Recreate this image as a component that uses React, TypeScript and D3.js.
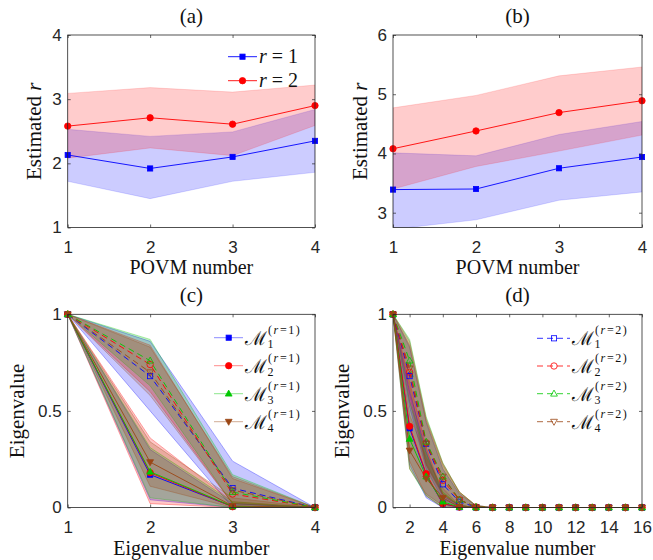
import React, { useEffect, useRef } from "react";
import * as d3 from "d3";

// ---- panel (a): estimated rank vs POVM number ----
const povmNumber = [1, 2, 3, 4];
const aR1Mean = [2.13, 1.92, 2.1, 2.35];
const aR1Lo = [1.72, 1.45, 1.72, 1.86];
const aR1Hi = [2.53, 2.42, 2.49, 2.84];
const aR2Mean = [2.58, 2.71, 2.61, 2.9];
const aR2Lo = [2.08, 2.24, 2.12, 2.59];
const aR2Hi = [3.09, 3.18, 3.11, 3.22];

// ---- panel (b) ----
const bR1Mean = [3.39, 3.4, 3.75, 3.94];
const bR1Lo = [2.72, 2.88, 3.21, 3.35];
const bR1Hi = [4.01, 3.96, 4.32, 4.54];
const bR2Mean = [4.08, 4.38, 4.69, 4.89];
const bR2Lo = [3.4, 3.78, 4.04, 4.31];
const bR2Hi = [4.77, 4.98, 5.31, 5.46];

// ---- panel (c): 4 eigenvalues ----
const cIndex = [1, 2, 3, 4];
const cSolid = [
  [1, 0.17, 0.005, 0],
  [1, 0.18, 0.004, 0],
  [1, 0.185, 0.006, 0],
  [1, 0.235, 0.008, 0],
];
const cSolidLo = [
  [1, 0.04, 0, 0],
  [1, 0.02, 0, 0],
  [1, 0.05, 0, 0],
  [1, 0.11, 0, 0],
];
const cSolidHi = [
  [1, 0.3, 0.02, 0],
  [1, 0.36, 0.03, 0],
  [1, 0.31, 0.03, 0],
  [1, 0.34, 0.05, 0],
];
const cDashed = [
  [1, 0.68, 0.1, 0],
  [1, 0.74, 0.07, 0],
  [1, 0.76, 0.08, 0],
  [1, 0.7, 0.09, 0],
];
const cDashedLo = [
  [1, 0.5, 0, 0],
  [1, 0.6, 0.02, 0],
  [1, 0.63, 0.02, 0],
  [1, 0.58, 0.02, 0],
];
const cDashedHi = [
  [1, 0.86, 0.24, 0],
  [1, 0.84, 0.15, 0],
  [1, 0.87, 0.17, 0],
  [1, 0.83, 0.16, 0],
];

// ---- panel (d): 16 eigenvalues ----
const dIndex = [1, 2, 3, 4, 5, 6, 7, 8, 9, 10, 11, 12, 13, 14, 15, 16];
const dSolid = [
  [1, 0.41, 0.17, 0.02, 0.001, 0, 0, 0, 0, 0, 0, 0, 0, 0, 0, 0],
  [1, 0.42, 0.175, 0.02, 0.002, 0, 0, 0, 0, 0, 0, 0, 0, 0, 0, 0],
  [1, 0.355, 0.16, 0.03, 0.002, 0, 0, 0, 0, 0, 0, 0, 0, 0, 0, 0],
  [1, 0.295, 0.15, 0.05, 0.003, 0, 0, 0, 0, 0, 0, 0, 0, 0, 0, 0],
];
const dSolidLo = [
  [1, 0.22, 0.05, 0, 0, 0, 0, 0, 0, 0, 0, 0, 0, 0, 0, 0],
  [1, 0.24, 0.06, 0, 0, 0, 0, 0, 0, 0, 0, 0, 0, 0, 0, 0],
  [1, 0.2, 0.06, 0, 0, 0, 0, 0, 0, 0, 0, 0, 0, 0, 0, 0],
  [1, 0.2, 0.07, 0.01, 0, 0, 0, 0, 0, 0, 0, 0, 0, 0, 0, 0],
];
const dSolidHi = [
  [1, 0.6, 0.29, 0.06, 0.01, 0, 0, 0, 0, 0, 0, 0, 0, 0, 0, 0],
  [1, 0.65, 0.31, 0.07, 0.01, 0, 0, 0, 0, 0, 0, 0, 0, 0, 0, 0],
  [1, 0.55, 0.28, 0.08, 0.01, 0, 0, 0, 0, 0, 0, 0, 0, 0, 0, 0],
  [1, 0.48, 0.26, 0.1, 0.01, 0, 0, 0, 0, 0, 0, 0, 0, 0, 0, 0],
];
const dDashed = [
  [1, 0.68, 0.33, 0.12, 0.03, 0.002, 0, 0, 0, 0, 0, 0, 0, 0, 0, 0],
  [1, 0.7, 0.335, 0.14, 0.04, 0.003, 0, 0, 0, 0, 0, 0, 0, 0, 0, 0],
  [1, 0.76, 0.34, 0.16, 0.04, 0.003, 0, 0, 0, 0, 0, 0, 0, 0, 0, 0],
  [1, 0.72, 0.33, 0.16, 0.04, 0.003, 0, 0, 0, 0, 0, 0, 0, 0, 0, 0],
];
const dDashedLo = [
  [1, 0.52, 0.2, 0.04, 0.005, 0, 0, 0, 0, 0, 0, 0, 0, 0, 0, 0],
  [1, 0.55, 0.22, 0.06, 0.01, 0, 0, 0, 0, 0, 0, 0, 0, 0, 0, 0],
  [1, 0.62, 0.23, 0.07, 0.01, 0, 0, 0, 0, 0, 0, 0, 0, 0, 0, 0],
  [1, 0.58, 0.22, 0.07, 0.01, 0, 0, 0, 0, 0, 0, 0, 0, 0, 0, 0],
];
const dDashedHi = [
  [1, 0.83, 0.44, 0.2, 0.07, 0.01, 0, 0, 0, 0, 0, 0, 0, 0, 0, 0],
  [1, 0.84, 0.45, 0.22, 0.08, 0.01, 0, 0, 0, 0, 0, 0, 0, 0, 0, 0],
  [1, 0.87, 0.47, 0.23, 0.08, 0.01, 0, 0, 0, 0, 0, 0, 0, 0, 0, 0],
  [1, 0.86, 0.46, 0.23, 0.08, 0.01, 0, 0, 0, 0, 0, 0, 0, 0, 0, 0],
];

const seriesColors = ["#0000ff", "#ff0000", "#00c800", "#9b4614"];
const seriesMarkers = ["square", "circle", "triangle", "triangleDown"];
const legendSubs = ["1", "2", "3", "4"];

const axisColor = "#262626";
const serif = "'Liberation Serif', 'Times New Roman', serif";
const sans = "'Liberation Sans', Arial, sans-serif";

const drawMarker = (g, shape, cx, cy, color, filled) => {
  const fill = filled ? color : "none";
  if (shape === "square") {
    g.append("rect").attr("x", cx - 2.6).attr("y", cy - 2.6).attr("width", 5.2).attr("height", 5.2)
      .attr("fill", fill).attr("stroke", color).attr("stroke-width", 0.8);
  } else if (shape === "circle") {
    g.append("circle").attr("cx", cx).attr("cy", cy).attr("r", 3.2)
      .attr("fill", fill).attr("stroke", color).attr("stroke-width", 0.8);
  } else if (shape === "triangle") {
    g.append("path").attr("d", `M${cx},${cy - 3.6}L${cx + 3.4},${cy + 2.4}L${cx - 3.4},${cy + 2.4}Z`)
      .attr("fill", fill).attr("stroke", color).attr("stroke-width", 0.8);
  } else {
    g.append("path").attr("d", `M${cx},${cy + 3.6}L${cx + 3.4},${cy - 2.4}L${cx - 3.4},${cy - 2.4}Z`)
      .attr("fill", fill).attr("stroke", color).attr("stroke-width", 0.8);
  }
};

const App = () => {
  const ref = useRef(null);

  useEffect(() => {
    const svg = d3.select(ref.current);
    svg.selectAll("*").remove();
    svg.append("rect").attr("width", 653).attr("height", 560).attr("fill", "#fff");
    const defs = svg.append("defs");

    const makePanel = (cfg) => {
      const x = d3.scaleLinear().domain(cfg.xDomain).range([cfg.left, cfg.right]);
      const y = d3.scaleLinear().domain(cfg.yDomain).range([cfg.bottom, cfg.top]);
      const g = svg.append("g");

      defs.append("clipPath").attr("id", "clip-" + cfg.id)
        .append("rect").attr("x", cfg.left).attr("y", cfg.top)
        .attr("width", cfg.right - cfg.left).attr("height", cfg.bottom - cfg.top);

      const plot = g.append("g").attr("clip-path", `url(#clip-${cfg.id})`);
      const over = g.append("g");

      // axes box + inward ticks
      const axes = g.append("g");
      const styleAxis = (sel) => {
        sel.select(".domain").remove();
        sel.selectAll(".tick line").attr("stroke", axisColor).attr("stroke-width", 0.7);
        sel.selectAll(".tick text").attr("fill", axisColor).attr("font-family", sans).attr("font-size", 17);
      };
      axes.append("g").attr("transform", `translate(0,${cfg.bottom})`)
        .call(d3.axisBottom(x).tickValues(cfg.xTicks).tickSize(-3).tickPadding(13).tickFormat(d3.format("d")))
        .call(styleAxis);
      axes.append("g").attr("transform", `translate(0,${cfg.top})`)
        .call(d3.axisTop(x).tickValues(cfg.xTicks).tickSize(-3).tickFormat(() => ""))
        .call(styleAxis);
      axes.append("g").attr("transform", `translate(${cfg.left},0)`)
        .call(d3.axisLeft(y).tickValues(cfg.yTicks).tickSize(-3).tickPadding(6).tickFormat(cfg.yFormat))
        .call(styleAxis);
      axes.append("g").attr("transform", `translate(${cfg.right},0)`)
        .call(d3.axisRight(y).tickValues(cfg.yTicks).tickSize(-3).tickFormat(() => ""))
        .call(styleAxis);
      axes.append("rect").attr("x", cfg.left).attr("y", cfg.top)
        .attr("width", cfg.right - cfg.left).attr("height", cfg.bottom - cfg.top)
        .attr("fill", "none").attr("stroke", axisColor).attr("stroke-width", 0.8);

      // title, axis labels
      g.append("text").attr("x", (cfg.left + cfg.right) / 2).attr("y", cfg.top - 12)
        .attr("text-anchor", "middle").attr("font-family", serif).attr("font-size", 21)
        .attr("fill", "#111").text(cfg.title);
      g.append("text").attr("x", (cfg.left + cfg.right) / 2).attr("y", cfg.xLabelY)
        .attr("text-anchor", "middle").attr("font-family", serif).attr("font-size", 20)
        .attr("fill", "#111").text(cfg.xLabel);
      const yl = g.append("text")
        .attr("transform", `translate(${cfg.yLabelX},${(cfg.top + cfg.bottom) / 2}) rotate(-90)`)
        .attr("text-anchor", "middle").attr("font-family", serif).attr("font-size", 21).attr("fill", "#111");
      yl.append("tspan").text(cfg.yLabel);
      if (cfg.yLabelItalic) yl.append("tspan").attr("font-style", "italic").text(cfg.yLabelItalic);

      return { x, y, plot, over, g };
    };

    const band = (p, xs, lo, hi, color, fo, so) => {
      const pts = xs.map((v, i) => ({ x: v, lo: lo[i], hi: hi[i] }));
      const area = d3.area().x((d) => p.x(d.x)).y0((d) => p.y(d.lo)).y1((d) => p.y(d.hi));
      p.plot.append("path").attr("d", area(pts)).attr("fill", color).attr("fill-opacity", fo)
        .attr("stroke", color).attr("stroke-opacity", so).attr("stroke-width", 0.7);
    };
    const series = (p, xs, ys, color, shape, dashed, filled) => {
      const line = d3.line().x((d, i) => p.x(xs[i])).y((d) => p.y(d));
      p.plot.append("path").attr("d", line(ys)).attr("fill", "none").attr("stroke", color)
        .attr("stroke-width", 0.9).attr("stroke-dasharray", dashed ? "6,4" : null);
      ys.forEach((v, i) => drawMarker(p.over, shape, p.x(xs[i]), p.y(v), color, filled));
    };

    // ---------- (a) ----------
    const pa = makePanel({
      id: "a", title: "(a)", left: 67.7, right: 315, top: 35, bottom: 227.5,
      xDomain: [1, 4], yDomain: [1, 4], xTicks: povmNumber, yTicks: [1, 2, 3, 4],
      yFormat: d3.format("d"), xLabel: "POVM number", xLabelY: 274,
      yLabel: "Estimated ", yLabelItalic: "r", yLabelX: 41,
    });
    band(pa, povmNumber, aR1Lo, aR1Hi, "#0000ff", 0.2, 0.2);
    band(pa, povmNumber, aR2Lo, aR2Hi, "#ff0000", 0.2, 0.2);
    series(pa, povmNumber, aR1Mean, "#0000ff", "square", false, true);
    series(pa, povmNumber, aR2Mean, "#ff0000", "circle", false, true);

    // legend (a)
    [["#0000ff", "square", "1", 56.7], ["#ff0000", "circle", "2", 80.7]].forEach(([c, s, v, yy]) => {
      pa.g.append("line").attr("x1", 228).attr("x2", 257).attr("y1", yy).attr("y2", yy)
        .attr("stroke", c).attr("stroke-width", 0.9);
      drawMarker(pa.g, s, 242.5, yy, c, true);
      const t = pa.g.append("text").attr("x", 259).attr("y", yy + 6.5)
        .attr("font-family", serif).attr("font-size", 20).attr("fill", "#111");
      t.append("tspan").attr("font-style", "italic").text("r");
      t.append("tspan").text(" = " + v);
    });

    // ---------- (b) ----------
    const pb = makePanel({
      id: "b", title: "(b)", left: 393, right: 642, top: 35, bottom: 227.5,
      xDomain: [1, 4], yDomain: [2.75, 6], xTicks: povmNumber, yTicks: [3, 4, 5, 6],
      yFormat: d3.format("d"), xLabel: "POVM number", xLabelY: 274,
      yLabel: "Estimated ", yLabelItalic: "r", yLabelX: 367,
    });
    band(pb, povmNumber, bR1Lo, bR1Hi, "#0000ff", 0.2, 0.2);
    band(pb, povmNumber, bR2Lo, bR2Hi, "#ff0000", 0.2, 0.2);
    series(pb, povmNumber, bR1Mean, "#0000ff", "square", false, true);
    series(pb, povmNumber, bR2Mean, "#ff0000", "circle", false, true);

    // ---------- (c) & (d) ----------
    const eigFormat = (d) => (d === 0.5 ? "0.5" : d3.format("d")(d));
    const drawEigen = (p, xs, solid, solidLo, solidHi, dashed, dashedLo, dashedHi) => {
      seriesColors.forEach((c, k) => band(p, xs, dashedLo[k], dashedHi[k], c, 0.22, 0.45));
      seriesColors.forEach((c, k) => band(p, xs, solidLo[k], solidHi[k], c, 0.22, 0.45));
      seriesColors.forEach((c, k) => series(p, xs, dashed[k], c, seriesMarkers[k], true, false));
      seriesColors.forEach((c, k) => series(p, xs, solid[k], c, seriesMarkers[k], false, true));
    };
    const legendM = (p, k, yy, x0, x1, xm, tx, dashed, rank) => {
      const c = seriesColors[k];
      p.g.append("line").attr("x1", x0).attr("x2", x1).attr("y1", yy).attr("y2", yy)
        .attr("stroke", c).attr("stroke-opacity", dashed ? 0.8 : 0.45).attr("stroke-width", 1)
        .attr("stroke-dasharray", dashed ? "6,4" : null);
      drawMarker(p.g, seriesMarkers[k], xm, yy, c, !dashed);
      const m = p.g.append("text").attr("x", tx).attr("y", yy + 7)
        .attr("font-family", "'DejaVu Serif', serif").attr("font-size", 19).attr("fill", "#111").text("ℳ");
      const mw = m.node().getComputedTextLength();
      p.g.append("text").attr("x", tx + mw + 0.5).attr("y", yy + 10)
        .attr("font-family", serif).attr("font-size", 12).attr("fill", "#111").text(legendSubs[k]);
      const sup = p.g.append("text").attr("x", tx + mw + 1).attr("y", yy - 4)
        .attr("font-family", serif).attr("font-size", 12).attr("letter-spacing", 1.6).attr("fill", "#111");
      sup.append("tspan").text("(");
      sup.append("tspan").attr("font-style", "italic").text("r");
      sup.append("tspan").text("=" + rank + ")");
    };

    const pc = makePanel({
      id: "c", title: "(c)", left: 67.7, right: 315, top: 314.3, bottom: 507.5,
      xDomain: [1, 4], yDomain: [0, 1], xTicks: cIndex, yTicks: [0, 0.5, 1],
      yFormat: eigFormat, xLabel: "Eigenvalue number", xLabelY: 555,
      yLabel: "Eigenvalue", yLabelX: 23.5,
    });
    drawEigen(pc, cIndex, cSolid, cSolidLo, cSolidHi, cDashed, cDashedLo, cDashedHi);
    [337.7, 365.7, 393.7, 421.7].forEach((yy, k) => legendM(pc, k, yy, 214, 243, 228.7, 245, false, "1"));

    const pd = makePanel({
      id: "d", title: "(d)", left: 393, right: 642, top: 314.3, bottom: 507.5,
      xDomain: [1, 16], yDomain: [0, 1], xTicks: [2, 4, 6, 8, 10, 12, 14, 16], yTicks: [0, 0.5, 1],
      yFormat: eigFormat, xLabel: "Eigenvalue number", xLabelY: 555,
      yLabel: "Eigenvalue", yLabelX: 349,
    });
    drawEigen(pd, dIndex, dSolid, dSolidLo, dSolidHi, dDashed, dDashedLo, dDashedHi);
    [338.3, 366, 393.7, 421.7].forEach((yy, k) => legendM(pd, k, yy, 537, 570, 554, 572, true, "2"));
  }, []);

  return (
    <svg ref={ref} width={653} height={560} style={{ position: "absolute", left: 0, top: 0 }} />
  );
};

export default App;
